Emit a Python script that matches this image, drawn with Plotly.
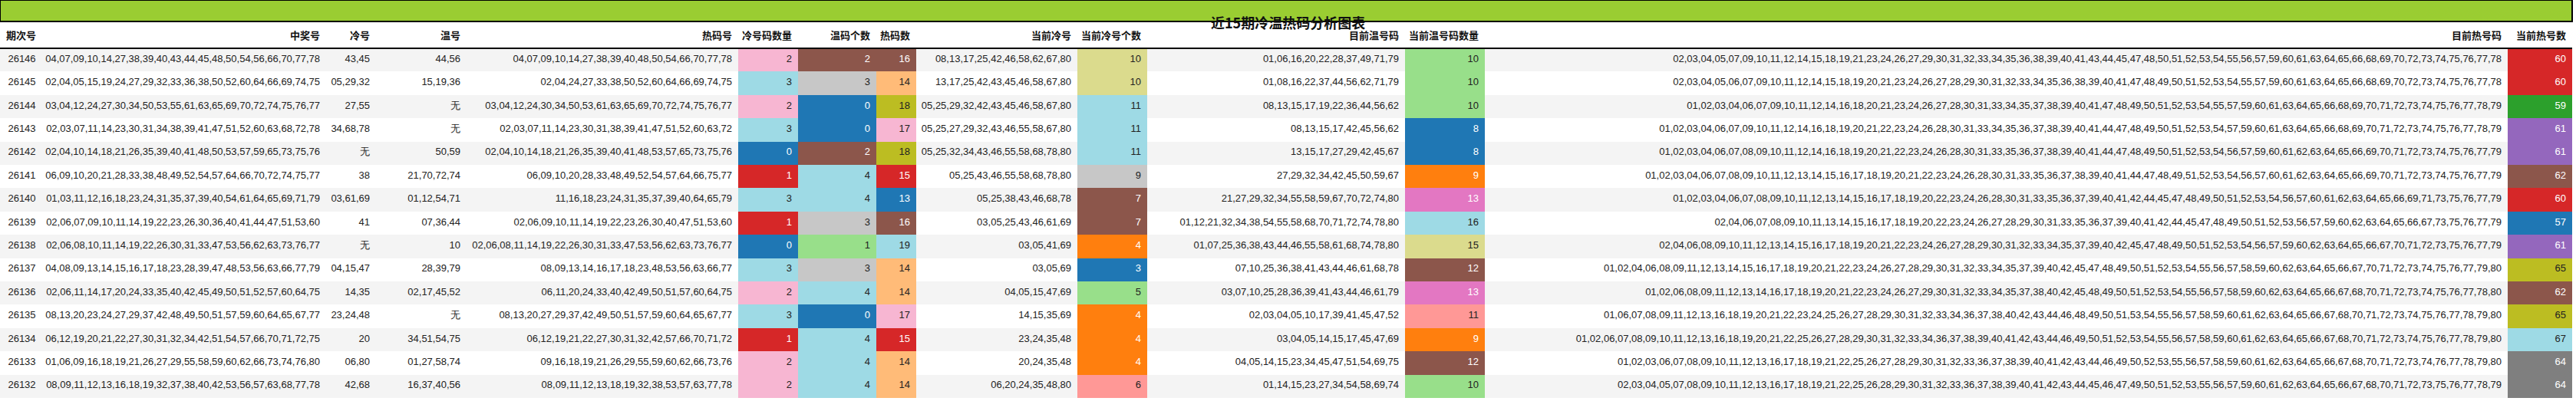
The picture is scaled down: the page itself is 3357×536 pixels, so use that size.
import plotly.graph_objects as go

title = "近15期冷温热码分析图表"
headers = ["期次号", "中奖号", "冷号", "温号", "热码号", "冷号码数量", "温码个数", "热码数",
           "当前冷号", "当前冷号个数", "目前温号码", "当前温号码数量", "目前热号码", "当前热号数"]

periods = ["26146", "26145", "26144", "26143", "26142", "26141", "26140", "26139", "26138",
           "26137", "26136", "26135", "26134", "26133", "26132"]
winning = [
    "04,07,09,10,14,27,38,39,40,43,44,45,48,50,54,56,66,70,77,78",
    "02,04,05,15,19,24,27,29,32,33,36,38,50,52,60,64,66,69,74,75",
    "03,04,12,24,27,30,34,50,53,55,61,63,65,69,70,72,74,75,76,77",
    "02,03,07,11,14,23,30,31,34,38,39,41,47,51,52,60,63,68,72,78",
    "02,04,10,14,18,21,26,35,39,40,41,48,50,53,57,59,65,73,75,76",
    "06,09,10,20,21,28,33,38,48,49,52,54,57,64,66,70,72,74,75,77",
    "01,03,11,12,16,18,23,24,31,35,37,39,40,54,61,64,65,69,71,79",
    "02,06,07,09,10,11,14,19,22,23,26,30,36,40,41,44,47,51,53,60",
    "02,06,08,10,11,14,19,22,26,30,31,33,47,53,56,62,63,73,76,77",
    "04,08,09,13,14,15,16,17,18,23,28,39,47,48,53,56,63,66,77,79",
    "02,06,11,14,17,20,24,33,35,40,42,45,49,50,51,52,57,60,64,75",
    "08,13,20,23,24,27,29,37,42,48,49,50,51,57,59,60,64,65,67,77",
    "06,12,19,20,21,22,27,30,31,32,34,42,51,54,57,66,70,71,72,75",
    "01,06,09,16,18,19,21,26,27,29,55,58,59,60,62,66,73,74,76,80",
    "08,09,11,12,13,16,18,19,32,37,38,40,42,53,56,57,63,68,77,78",
]
cold = ["43,45", "05,29,32", "27,55", "34,68,78", "无", "38", "03,61,69", "41", "无",
        "04,15,47", "14,35", "23,24,48", "20", "06,80", "42,68"]
warm = ["44,56", "15,19,36", "无", "无", "50,59", "21,70,72,74", "01,12,54,71", "07,36,44", "10",
        "28,39,79", "02,17,45,52", "无", "34,51,54,75", "01,27,58,74", "16,37,40,56"]
hot = [
    "04,07,09,10,14,27,38,39,40,48,50,54,66,70,77,78",
    "02,04,24,27,33,38,50,52,60,64,66,69,74,75",
    "03,04,12,24,30,34,50,53,61,63,65,69,70,72,74,75,76,77",
    "02,03,07,11,14,23,30,31,38,39,41,47,51,52,60,63,72",
    "02,04,10,14,18,21,26,35,39,40,41,48,53,57,65,73,75,76",
    "06,09,10,20,28,33,48,49,52,54,57,64,66,75,77",
    "11,16,18,23,24,31,35,37,39,40,64,65,79",
    "02,06,09,10,11,14,19,22,23,26,30,40,47,51,53,60",
    "02,06,08,11,14,19,22,26,30,31,33,47,53,56,62,63,73,76,77",
    "08,09,13,14,16,17,18,23,48,53,56,63,66,77",
    "06,11,20,24,33,40,42,49,50,51,57,60,64,75",
    "08,13,20,27,29,37,42,49,50,51,57,59,60,64,65,67,77",
    "06,12,19,21,22,27,30,31,32,42,57,66,70,71,72",
    "09,16,18,19,21,26,29,55,59,60,62,66,73,76",
    "08,09,11,12,13,18,19,32,38,53,57,63,77,78",
]
cold_count = [2, 3, 2, 3, 0, 1, 3, 1, 0, 3, 2, 3, 1, 2, 2]
warm_count = [2, 3, 0, 0, 2, 4, 4, 3, 1, 3, 4, 0, 4, 4, 4]
hot_count = [16, 14, 18, 17, 18, 15, 13, 16, 19, 14, 14, 17, 15, 14, 14]
cur_cold = ["08,13,17,25,42,46,58,62,67,80", "13,17,25,42,43,45,46,58,67,80",
            "05,25,29,32,42,43,45,46,58,67,80", "05,25,27,29,32,43,46,55,58,67,80",
            "05,25,32,34,43,46,55,58,68,78,80", "05,25,43,46,55,58,68,78,80",
            "05,25,38,43,46,68,78", "03,05,25,43,46,61,69", "03,05,41,69", "03,05,69",
            "04,05,15,47,69", "14,15,35,69", "23,24,35,48", "20,24,35,48", "06,20,24,35,48,80"]
cur_cold_count = [10, 10, 11, 11, 11, 9, 7, 7, 4, 3, 5, 4, 4, 4, 6]
cur_warm = ["01,06,16,20,22,28,37,49,71,79", "01,08,16,22,37,44,56,62,71,79",
            "08,13,15,17,19,22,36,44,56,62", "08,13,15,17,42,45,56,62",
            "13,15,17,27,29,42,45,67", "27,29,32,34,42,45,50,59,67",
            "21,27,29,32,34,55,58,59,67,70,72,74,80",
            "01,12,21,32,34,38,54,55,58,68,70,71,72,74,78,80",
            "01,07,25,36,38,43,44,46,55,58,61,68,74,78,80",
            "07,10,25,36,38,41,43,44,46,61,68,78",
            "03,07,10,25,28,36,39,41,43,44,46,61,79",
            "02,03,04,05,10,17,39,41,45,47,52", "03,04,05,14,15,17,45,47,69",
            "04,05,14,15,23,34,45,47,51,54,69,75", "01,14,15,23,27,34,54,58,69,74"]
cur_warm_count = [10, 10, 10, 8, 8, 9, 13, 16, 15, 12, 13, 11, 9, 12, 10]
cur_hot = [
    "02,03,04,05,07,09,10,11,12,14,15,18,19,21,23,24,26,27,29,30,31,32,33,34,35,36,38,39,40,41,43,44,45,47,48,50,51,52,53,54,55,56,57,59,60,61,63,64,65,66,68,69,70,72,73,74,75,76,77,78",
    "02,03,04,05,06,07,09,10,11,12,14,15,18,19,20,21,23,24,26,27,28,29,30,31,32,33,34,35,36,38,39,40,41,47,48,49,50,51,52,53,54,55,57,59,60,61,63,64,65,66,68,69,70,72,73,74,75,76,77,78",
    "01,02,03,04,06,07,09,10,11,12,14,16,18,20,21,23,24,26,27,28,30,31,33,34,35,37,38,39,40,41,47,48,49,50,51,52,53,54,55,57,59,60,61,63,64,65,66,68,69,70,71,72,73,74,75,76,77,78,79",
    "01,02,03,04,06,07,09,10,11,12,14,16,18,19,20,21,22,23,24,26,28,30,31,33,34,35,36,37,38,39,40,41,44,47,48,49,50,51,52,53,54,57,59,60,61,63,64,65,66,68,69,70,71,72,73,74,75,76,77,78,79",
    "01,02,03,04,06,07,08,09,10,11,12,14,16,18,19,20,21,22,23,24,26,28,30,31,33,35,36,37,38,39,40,41,44,47,48,49,50,51,52,53,54,56,57,59,60,61,62,63,64,65,66,69,70,71,72,73,74,75,76,77,79",
    "01,02,03,04,06,07,08,09,10,11,12,13,14,15,16,17,18,19,20,21,22,23,24,26,28,30,31,33,35,36,37,38,39,40,41,44,47,48,49,51,52,53,54,56,57,60,61,62,63,64,65,66,69,70,71,72,73,74,75,76,77,79",
    "01,02,03,04,06,07,08,09,10,11,12,13,14,15,16,17,18,19,20,22,23,24,26,28,30,31,33,35,36,37,39,40,41,42,44,45,47,48,49,50,51,52,53,54,56,57,60,61,62,63,64,65,66,69,71,73,75,76,77,79",
    "02,04,06,07,08,09,10,11,13,14,15,16,17,18,19,20,22,23,24,26,27,28,29,30,31,33,35,36,37,39,40,41,42,44,45,47,48,49,50,51,52,53,56,57,59,60,62,63,64,65,66,67,73,75,76,77,79",
    "02,04,06,08,09,10,11,12,13,14,15,16,17,18,19,20,21,22,23,24,26,27,28,29,30,31,32,33,34,35,37,39,40,42,45,47,48,49,50,51,52,53,54,56,57,59,60,62,63,64,65,66,67,70,71,72,73,75,76,77,79",
    "01,02,04,06,08,09,11,12,13,14,15,16,17,18,19,20,21,22,23,24,26,27,28,29,30,31,32,33,34,35,37,39,40,42,45,47,48,49,50,51,52,53,54,55,56,57,58,59,60,62,63,64,65,66,67,70,71,72,73,74,75,76,77,79,80",
    "01,02,06,08,09,11,12,13,14,16,17,18,19,20,21,22,23,24,26,27,29,30,31,32,33,34,35,37,38,40,42,45,48,49,50,51,52,53,54,55,56,57,58,59,60,62,63,64,65,66,67,68,70,71,72,73,74,75,76,77,78,80",
    "01,06,07,08,09,11,12,13,16,18,19,20,21,22,23,24,25,26,27,28,29,30,31,32,33,34,36,37,38,40,42,43,44,46,48,49,50,51,53,54,55,56,57,58,59,60,61,62,63,64,65,66,67,68,70,71,72,73,74,75,76,77,78,79,80",
    "01,02,06,07,08,09,10,11,12,13,16,18,19,20,21,22,25,26,27,28,29,30,31,32,33,34,36,37,38,39,40,41,42,43,44,46,49,50,51,52,53,54,55,56,57,58,59,60,61,62,63,64,65,66,67,68,70,71,72,73,74,75,76,77,78,79,80",
    "01,02,03,06,07,08,09,10,11,12,13,16,17,18,19,21,22,25,26,27,28,29,30,31,32,33,36,37,38,39,40,41,42,43,44,46,49,50,52,53,55,56,57,58,59,60,61,62,63,64,65,66,67,68,70,71,72,73,74,76,77,78,79,80",
    "02,03,04,05,07,08,09,10,11,12,13,16,17,18,19,21,22,25,26,28,29,30,31,32,33,36,37,38,39,40,41,42,43,44,45,46,47,49,50,51,52,53,55,56,57,59,60,61,62,63,64,65,66,67,68,70,71,72,73,75,76,77,78,79",
]
cur_hot_count = [60, 60, 59, 61, 61, 62, 60, 57, 61, 65, 62, 65, 67, 64, 64]

# ---- styles ----
BLUE, BROWN, RED, ORANGE, PINK2 = "#1f77b4", "#8c564b", "#d62728", "#ff7f0e", "#e377c2"
GREEN, PURPLE, GREY = "#2ca02c", "#9467bd", "#7f7f7f"
PINK, CYAN, LGREY, LGREEN = "#f7b6d2", "#9edae5", "#c7c7c7", "#98df8a"
OLIVE, LOLIVE, LORANGE, SALMON = "#bcbd22", "#dbdb8d", "#ffbb78", "#ff9896"
DARK = {BLUE, BROWN, RED, ORANGE, PINK2, GREEN, PURPLE, GREY}

cmap_cold_count = {2: PINK, 3: CYAN, 0: BLUE, 1: RED}
cmap_warm_count = {2: BROWN, 3: LGREY, 0: BLUE, 4: CYAN, 1: LGREEN}
cmap_hot_count = {16: BROWN, 14: LORANGE, 18: OLIVE, 17: PINK, 15: RED, 13: BLUE, 19: CYAN}
cmap_cur_cold = {10: LOLIVE, 11: CYAN, 9: LGREY, 7: BROWN, 4: ORANGE, 3: BLUE, 5: LGREEN, 6: SALMON}
cmap_cur_warm = {10: LGREEN, 8: BLUE, 9: ORANGE, 13: PINK2, 16: CYAN, 15: LOLIVE, 12: BROWN, 11: SALMON}
cmap_cur_hot = {60: RED, 59: GREEN, 61: PURPLE, 62: BROWN, 57: BLUE, 65: OLIVE, 67: CYAN, 64: GREY}

n = len(periods)
row_bg = ["#f4f4f4" if i % 2 == 0 else "#ffffff" for i in range(n)]

columns = [periods, winning, cold, warm, hot, cold_count, warm_count, hot_count,
           cur_cold, cur_cold_count, cur_warm, cur_warm_count, cur_hot, cur_hot_count]
cmaps = {5: cmap_cold_count, 6: cmap_warm_count, 7: cmap_hot_count,
         9: cmap_cur_cold, 11: cmap_cur_warm, 13: cmap_cur_hot}
fills, fcolors = [], []
for ci, col in enumerate(columns):
    if ci in cmaps:
        f = [cmaps[ci][v] for v in col]
        fills.append(f)
        fcolors.append(["#ffffff" if c in DARK else "#222222" for c in f])
    else:
        fills.append(row_bg)
        fcolors.append(["#222222"] * n)

widths = [57, 368, 65, 118, 354, 78, 102, 52, 210, 91, 336, 104, 1333, 84]
W, H = 3357, 536
top = 28
TW = sum(widths)

fig = go.Figure(go.Table(
    domain=dict(x=[0, TW / W], y=[0, 1 - top / H]),
    columnwidth=widths,
    header=dict(values=["<b>%s</b>" % h for h in headers],
                align=["left"] + ["right"] * 13,
                fill_color="#ffffff", line=dict(color="#ffffff", width=0),
                font=dict(family="Noto Sans CJK SC", size=13, color="#111111"),
                height=35),
    cells=dict(values=columns,
               align=["center"] + ["right"] * 13,
               fill_color=fills, line=dict(color=fills, width=0),
               font=dict(family="Liberation Sans", size=13, color=fcolors),
               height=30.4),
))
fig.add_shape(type="rect", xref="paper", yref="paper", x0=0, x1=TW / W,
              y0=1 - top / H, y1=1, fillcolor="#9acd32", line=dict(color="#000000", width=2))
fig.add_shape(type="line", xref="paper", yref="paper", x0=0, x1=TW / W,
              y0=1 - 63 / H, y1=1 - 63 / H, line=dict(color="#000000", width=2))
fig.add_annotation(text="<b>%s</b>" % title, xref="paper", yref="paper",
                   x=0.5, y=1 - top / H / 2, showarrow=False,
                   font=dict(family="Noto Sans CJK SC", size=18, color="#111111"))
fig.update_layout(width=W, height=H, margin=dict(l=0, r=0, t=0, b=0),
                  paper_bgcolor="#ffffff")
fig.write_html("out.html", config={"displayModeBar": False},
               post_script="document.body.style.margin='0';document.body.style.overflow='hidden';")
